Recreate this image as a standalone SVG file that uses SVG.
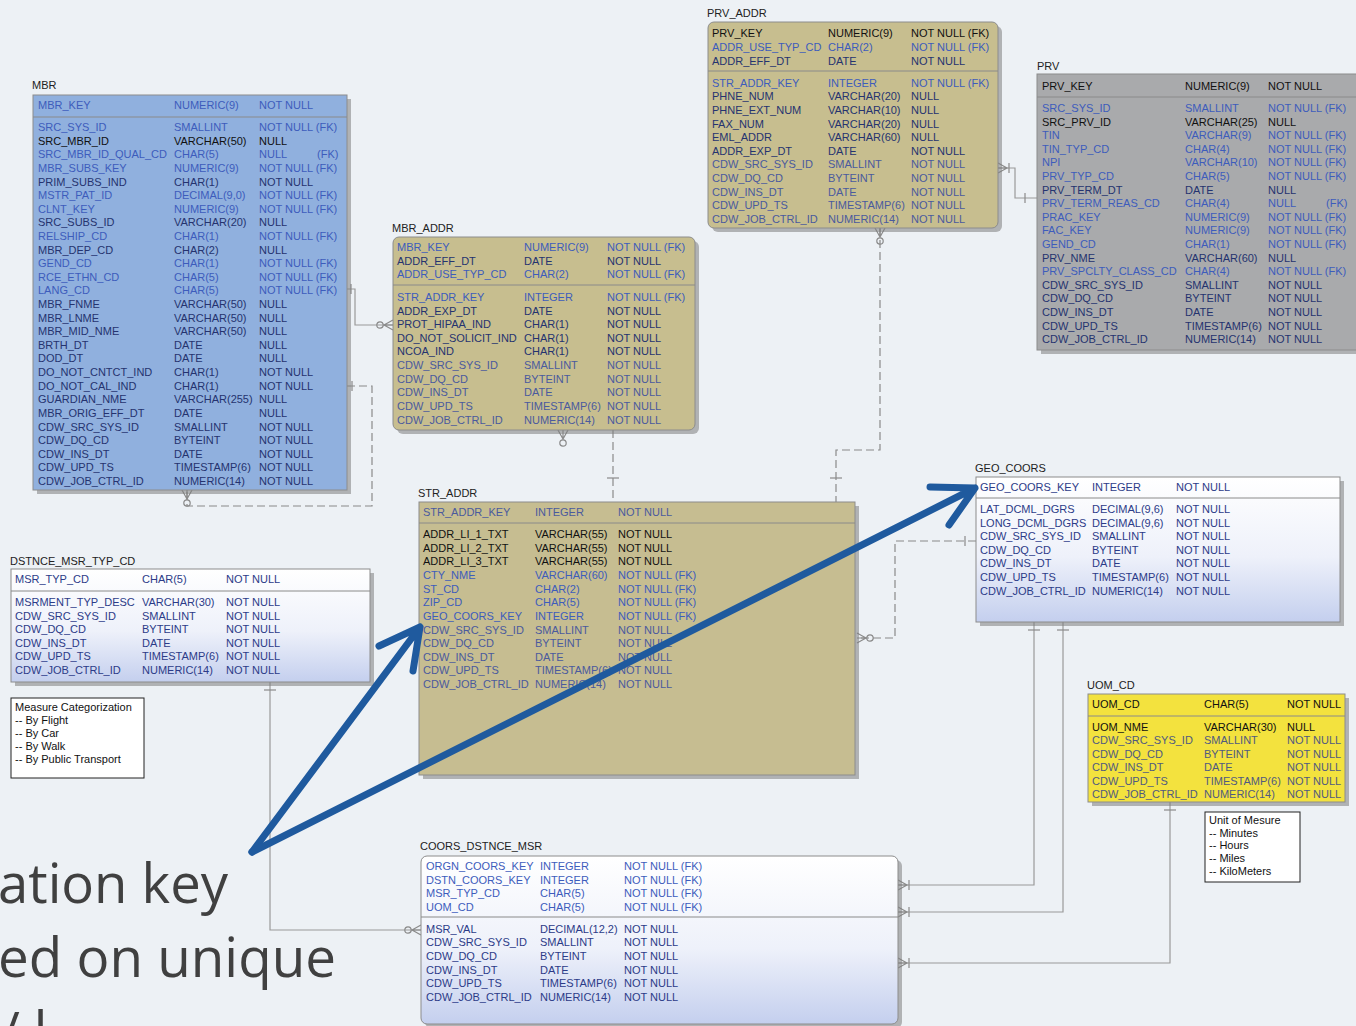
<svg xmlns="http://www.w3.org/2000/svg" width="1356" height="1026" viewBox="0 0 1356 1026">
<style>
text{font-family:"Liberation Sans",Arial,Helvetica,sans-serif;font-size:11px}
.lb{fill:#222}
.fk{fill:#3d5cbc}
.nv{fill:#25336f}
.bk{fill:#111}
.cw{fill:#4a5a9e}
.gb{fill:#2c3b88}
.gy{fill:#505a80}
.sh{fill:#7d7d7d;opacity:.55}
.sep{stroke:#8a8a8a;stroke-width:1}
.bd{stroke:#8c8c8c;stroke-width:1}
.ln{fill:none;stroke:#9a9a9a;stroke-width:1.2}
.dl{fill:none;stroke:#8a8a8a;stroke-width:1.2;stroke-dasharray:8 4}
.sym{fill:none;stroke:#8a8a8a;stroke-width:1.2}
.big{font-family:"Open Sans","Noto Sans",sans-serif;font-size:54px;fill:#404040}
.ar{fill:none;stroke:#1f5a9e;stroke-width:7;stroke-linecap:round;stroke-linejoin:round}
</style>
<defs>
<linearGradient id="gw" x1="0" y1="0" x2="0" y2="1">
<stop offset="0" stop-color="#ffffff"/><stop offset="0.55" stop-color="#eef1fa"/><stop offset="1" stop-color="#c4cfee"/>
</linearGradient>
<g id="footO" class="sym"><path d="M0,-5 L-9,0 L0,5 M0,0 H-9"/><circle cx="-13" cy="0" r="3.2"/></g>
<g id="footB" class="sym"><path d="M0,-5 L-9,0 L0,5 M0,0 H-9 M-11,-5 V5"/></g>
</defs>
<rect width="1356" height="1026" fill="#edf1f5"/>

<g id="connectors">
<path class="ln" d="M347,289 H355 V325 H393"/><path class="sym" d="M351,284 V294"/><use href="#footO" x="393" y="325"/>
<path class="dl" d="M347,386 H372 V506 H187 V490"/><path class="sym" d="M352,381 V391"/><use href="#footO" transform="translate(187,490) rotate(-90)"/>
<path class="dl" d="M613,430 V502"/><path class="sym" d="M607,478 H619"/><use href="#footO" transform="translate(563,430) rotate(-90)"/>
<path class="dl" d="M880,228 V450 H836 V502"/><path class="sym" d="M830,478 H842"/><use href="#footO" transform="translate(880,228) rotate(-90)"/>
<path class="ln" d="M1037,198 H1015 V168 H998"/><path class="sym" d="M1025,193 V203"/><use href="#footB" transform="translate(998,168) rotate(180)"/>
<path class="dl" d="M976,541 H895 V638 H857"/><path class="sym" d="M965,536 V546"/><use href="#footO" transform="translate(857,638) rotate(180)"/>
<path class="ln" d="M1034,622 V885 H898"/><path class="sym" d="M1028,630 H1040"/><use href="#footB" transform="translate(898,885) rotate(180)"/>
<path class="ln" d="M1063,622 V912 H898"/><path class="sym" d="M1057,630 H1069"/><use href="#footB" transform="translate(898,912) rotate(180)"/>
<path class="ln" d="M270,682 V930 H421"/><path class="sym" d="M264,690 H276"/><use href="#footO" x="421" y="930"/>
<path class="ln" d="M1170,802 V963 H898"/><path class="sym" d="M1164,810 H1176"/><use href="#footB" transform="translate(898,963) rotate(180)"/>
</g>

<g id="MBR">
<text class="lb" x="32" y="89">MBR</text>
<rect class="sh" x="37" y="99" width="314" height="395"/>
<rect class="bd" x="33" y="95" width="314" height="395" fill="#90b0de"/>
<line class="sep" x1="33" y1="117" x2="347" y2="117" stroke="#b8cbe8"/>
<text class="fk" y="109"><tspan x="38">MBR_KEY</tspan><tspan x="174">NUMERIC(9)</tspan><tspan x="259">NOT NULL</tspan></text>
<text class="fk" y="131"><tspan x="38">SRC_SYS_ID</tspan><tspan x="174">SMALLINT</tspan><tspan x="259">NOT NULL (FK)</tspan></text>
<text class="bk" y="145"><tspan x="38">SRC_MBR_ID</tspan><tspan x="174">VARCHAR(50)</tspan><tspan x="259">NULL</tspan></text>
<text class="fk" y="158"><tspan x="38">SRC_MBR_ID_QUAL_CD</tspan><tspan x="174">CHAR(5)</tspan><tspan x="259">NULL</tspan><tspan x="317">(FK)</tspan></text>
<text class="fk" y="172"><tspan x="38">MBR_SUBS_KEY</tspan><tspan x="174">NUMERIC(9)</tspan><tspan x="259">NOT NULL (FK)</tspan></text>
<text class="nv" y="186"><tspan x="38">PRIM_SUBS_IND</tspan><tspan x="174">CHAR(1)</tspan><tspan x="259">NOT NULL</tspan></text>
<text class="fk" y="199"><tspan x="38">MSTR_PAT_ID</tspan><tspan x="174">DECIMAL(9,0)</tspan><tspan x="259">NOT NULL (FK)</tspan></text>
<text class="fk" y="213"><tspan x="38">CLNT_KEY</tspan><tspan x="174">NUMERIC(9)</tspan><tspan x="259">NOT NULL (FK)</tspan></text>
<text class="nv" y="226"><tspan x="38">SRC_SUBS_ID</tspan><tspan x="174">VARCHAR(20)</tspan><tspan x="259">NULL</tspan></text>
<text class="fk" y="240"><tspan x="38">RELSHIP_CD</tspan><tspan x="174">CHAR(1)</tspan><tspan x="259">NOT NULL (FK)</tspan></text>
<text class="nv" y="254"><tspan x="38">MBR_DEP_CD</tspan><tspan x="174">CHAR(2)</tspan><tspan x="259">NULL</tspan></text>
<text class="fk" y="267"><tspan x="38">GEND_CD</tspan><tspan x="174">CHAR(1)</tspan><tspan x="259">NOT NULL (FK)</tspan></text>
<text class="fk" y="281"><tspan x="38">RCE_ETHN_CD</tspan><tspan x="174">CHAR(5)</tspan><tspan x="259">NOT NULL (FK)</tspan></text>
<text class="fk" y="294"><tspan x="38">LANG_CD</tspan><tspan x="174">CHAR(5)</tspan><tspan x="259">NOT NULL (FK)</tspan></text>
<text class="nv" y="308"><tspan x="38">MBR_FNME</tspan><tspan x="174">VARCHAR(50)</tspan><tspan x="259">NULL</tspan></text>
<text class="nv" y="322"><tspan x="38">MBR_LNME</tspan><tspan x="174">VARCHAR(50)</tspan><tspan x="259">NULL</tspan></text>
<text class="nv" y="335"><tspan x="38">MBR_MID_NME</tspan><tspan x="174">VARCHAR(50)</tspan><tspan x="259">NULL</tspan></text>
<text class="nv" y="349"><tspan x="38">BRTH_DT</tspan><tspan x="174">DATE</tspan><tspan x="259">NULL</tspan></text>
<text class="nv" y="362"><tspan x="38">DOD_DT</tspan><tspan x="174">DATE</tspan><tspan x="259">NULL</tspan></text>
<text class="nv" y="376"><tspan x="38">DO_NOT_CNTCT_IND</tspan><tspan x="174">CHAR(1)</tspan><tspan x="259">NOT NULL</tspan></text>
<text class="nv" y="390"><tspan x="38">DO_NOT_CAL_IND</tspan><tspan x="174">CHAR(1)</tspan><tspan x="259">NOT NULL</tspan></text>
<text class="nv" y="403"><tspan x="38">GUARDIAN_NME</tspan><tspan x="174">VARCHAR(255)</tspan><tspan x="259">NULL</tspan></text>
<text class="nv" y="417"><tspan x="38">MBR_ORIG_EFF_DT</tspan><tspan x="174">DATE</tspan><tspan x="259">NULL</tspan></text>
<text class="nv" y="431"><tspan x="38">CDW_SRC_SYS_ID</tspan><tspan x="174">SMALLINT</tspan><tspan x="259">NOT NULL</tspan></text>
<text class="nv" y="444"><tspan x="38">CDW_DQ_CD</tspan><tspan x="174">BYTEINT</tspan><tspan x="259">NOT NULL</tspan></text>
<text class="nv" y="458"><tspan x="38">CDW_INS_DT</tspan><tspan x="174">DATE</tspan><tspan x="259">NOT NULL</tspan></text>
<text class="nv" y="471"><tspan x="38">CDW_UPD_TS</tspan><tspan x="174">TIMESTAMP(6)</tspan><tspan x="259">NOT NULL</tspan></text>
<text class="nv" y="485"><tspan x="38">CDW_JOB_CTRL_ID</tspan><tspan x="174">NUMERIC(14)</tspan><tspan x="259">NOT NULL</tspan></text>
</g>

<g id="MBR_ADDR">
<text class="lb" x="392" y="232">MBR_ADDR</text>
<rect class="sh" x="397" y="241" width="302" height="193" rx="6"/>
<rect class="bd" x="393" y="237" width="302" height="193" rx="6" fill="#c7be8f"/>
<line class="sep" x1="393" y1="285" x2="695" y2="285"/>
<text class="fk" y="251"><tspan x="397">MBR_KEY</tspan><tspan x="524">NUMERIC(9)</tspan><tspan x="607">NOT NULL (FK)</tspan></text>
<text class="nv" y="265"><tspan x="397">ADDR_EFF_DT</tspan><tspan x="524">DATE</tspan><tspan x="607">NOT NULL</tspan></text>
<text class="fk" y="278"><tspan x="397">ADDR_USE_TYP_CD</tspan><tspan x="524">CHAR(2)</tspan><tspan x="607">NOT NULL (FK)</tspan></text>
<text class="fk" y="301"><tspan x="397">STR_ADDR_KEY</tspan><tspan x="524">INTEGER</tspan><tspan x="607">NOT NULL (FK)</tspan></text>
<text class="nv" y="315"><tspan x="397">ADDR_EXP_DT</tspan><tspan x="524">DATE</tspan><tspan x="607">NOT NULL</tspan></text>
<text class="nv" y="328"><tspan x="397">PROT_HIPAA_IND</tspan><tspan x="524">CHAR(1)</tspan><tspan x="607">NOT NULL</tspan></text>
<text class="nv" y="342"><tspan x="397">DO_NOT_SOLICIT_IND</tspan><tspan x="524">CHAR(1)</tspan><tspan x="607">NOT NULL</tspan></text>
<text class="nv" y="355"><tspan x="397">NCOA_IND</tspan><tspan x="524">CHAR(1)</tspan><tspan x="607">NOT NULL</tspan></text>
<text class="cw" y="369"><tspan x="397">CDW_SRC_SYS_ID</tspan><tspan x="524">SMALLINT</tspan><tspan x="607">NOT NULL</tspan></text>
<text class="cw" y="383"><tspan x="397">CDW_DQ_CD</tspan><tspan x="524">BYTEINT</tspan><tspan x="607">NOT NULL</tspan></text>
<text class="cw" y="396"><tspan x="397">CDW_INS_DT</tspan><tspan x="524">DATE</tspan><tspan x="607">NOT NULL</tspan></text>
<text class="cw" y="410"><tspan x="397">CDW_UPD_TS</tspan><tspan x="524">TIMESTAMP(6)</tspan><tspan x="607">NOT NULL</tspan></text>
<text class="cw" y="424"><tspan x="397">CDW_JOB_CTRL_ID</tspan><tspan x="524">NUMERIC(14)</tspan><tspan x="607">NOT NULL</tspan></text>
</g>

<g id="PRV_ADDR">
<text class="lb" x="707" y="17">PRV_ADDR</text>
<rect class="sh" x="712" y="26" width="290" height="206" rx="6"/>
<rect class="bd" x="708" y="22" width="290" height="206" rx="6" fill="#c7be8f"/>
<line class="sep" x1="708" y1="71" x2="998" y2="71"/>
<text class="bk" y="37"><tspan x="712">PRV_KEY</tspan><tspan x="828">NUMERIC(9)</tspan><tspan x="911">NOT NULL (FK)</tspan></text>
<text class="fk" y="51"><tspan x="712">ADDR_USE_TYP_CD</tspan><tspan x="828">CHAR(2)</tspan><tspan x="911">NOT NULL (FK)</tspan></text>
<text class="nv" y="65"><tspan x="712">ADDR_EFF_DT</tspan><tspan x="828">DATE</tspan><tspan x="911">NOT NULL</tspan></text>
<text class="fk" y="87"><tspan x="712">STR_ADDR_KEY</tspan><tspan x="828">INTEGER</tspan><tspan x="911">NOT NULL (FK)</tspan></text>
<text class="nv" y="100"><tspan x="712">PHNE_NUM</tspan><tspan x="828">VARCHAR(20)</tspan><tspan x="911">NULL</tspan></text>
<text class="nv" y="114"><tspan x="712">PHNE_EXT_NUM</tspan><tspan x="828">VARCHAR(10)</tspan><tspan x="911">NULL</tspan></text>
<text class="nv" y="128"><tspan x="712">FAX_NUM</tspan><tspan x="828">VARCHAR(20)</tspan><tspan x="911">NULL</tspan></text>
<text class="nv" y="141"><tspan x="712">EML_ADDR</tspan><tspan x="828">VARCHAR(60)</tspan><tspan x="911">NULL</tspan></text>
<text class="nv" y="155"><tspan x="712">ADDR_EXP_DT</tspan><tspan x="828">DATE</tspan><tspan x="911">NOT NULL</tspan></text>
<text class="cw" y="168"><tspan x="712">CDW_SRC_SYS_ID</tspan><tspan x="828">SMALLINT</tspan><tspan x="911">NOT NULL</tspan></text>
<text class="cw" y="182"><tspan x="712">CDW_DQ_CD</tspan><tspan x="828">BYTEINT</tspan><tspan x="911">NOT NULL</tspan></text>
<text class="cw" y="196"><tspan x="712">CDW_INS_DT</tspan><tspan x="828">DATE</tspan><tspan x="911">NOT NULL</tspan></text>
<text class="cw" y="209"><tspan x="712">CDW_UPD_TS</tspan><tspan x="828">TIMESTAMP(6)</tspan><tspan x="911">NOT NULL</tspan></text>
<text class="cw" y="223"><tspan x="712">CDW_JOB_CTRL_ID</tspan><tspan x="828">NUMERIC(14)</tspan><tspan x="911">NOT NULL</tspan></text>
</g>

<g id="PRV">
<text class="lb" x="1037" y="70">PRV</text>
<rect class="sh" x="1041" y="78" width="330" height="276"/>
<rect class="bd" x="1037" y="74" width="330" height="276" fill="#a9aaac"/>
<line class="sep" x1="1037" y1="97" x2="1356" y2="97" stroke="#c8c8c8"/>
<text class="bk" y="90"><tspan x="1042">PRV_KEY</tspan><tspan x="1185">NUMERIC(9)</tspan><tspan x="1268">NOT NULL</tspan></text>
<text class="fk" y="112"><tspan x="1042">SRC_SYS_ID</tspan><tspan x="1185">SMALLINT</tspan><tspan x="1268">NOT NULL (FK)</tspan></text>
<text class="bk" y="126"><tspan x="1042">SRC_PRV_ID</tspan><tspan x="1185">VARCHAR(25)</tspan><tspan x="1268">NULL</tspan></text>
<text class="fk" y="139"><tspan x="1042">TIN</tspan><tspan x="1185">VARCHAR(9)</tspan><tspan x="1268">NOT NULL (FK)</tspan></text>
<text class="fk" y="153"><tspan x="1042">TIN_TYP_CD</tspan><tspan x="1185">CHAR(4)</tspan><tspan x="1268">NOT NULL (FK)</tspan></text>
<text class="fk" y="166"><tspan x="1042">NPI</tspan><tspan x="1185">VARCHAR(10)</tspan><tspan x="1268">NOT NULL (FK)</tspan></text>
<text class="fk" y="180"><tspan x="1042">PRV_TYP_CD</tspan><tspan x="1185">CHAR(5)</tspan><tspan x="1268">NOT NULL (FK)</tspan></text>
<text class="nv" y="194"><tspan x="1042">PRV_TERM_DT</tspan><tspan x="1185">DATE</tspan><tspan x="1268">NULL</tspan></text>
<text class="fk" y="207"><tspan x="1042">PRV_TERM_REAS_CD</tspan><tspan x="1185">CHAR(4)</tspan><tspan x="1268">NULL</tspan><tspan x="1326">(FK)</tspan></text>
<text class="fk" y="221"><tspan x="1042">PRAC_KEY</tspan><tspan x="1185">NUMERIC(9)</tspan><tspan x="1268">NOT NULL (FK)</tspan></text>
<text class="fk" y="234"><tspan x="1042">FAC_KEY</tspan><tspan x="1185">NUMERIC(9)</tspan><tspan x="1268">NOT NULL (FK)</tspan></text>
<text class="fk" y="248"><tspan x="1042">GEND_CD</tspan><tspan x="1185">CHAR(1)</tspan><tspan x="1268">NOT NULL (FK)</tspan></text>
<text class="nv" y="262"><tspan x="1042">PRV_NME</tspan><tspan x="1185">VARCHAR(60)</tspan><tspan x="1268">NULL</tspan></text>
<text class="fk" y="275"><tspan x="1042">PRV_SPCLTY_CLASS_CD</tspan><tspan x="1185">CHAR(4)</tspan><tspan x="1268">NOT NULL (FK)</tspan></text>
<text class="nv" y="289"><tspan x="1042">CDW_SRC_SYS_ID</tspan><tspan x="1185">SMALLINT</tspan><tspan x="1268">NOT NULL</tspan></text>
<text class="nv" y="302"><tspan x="1042">CDW_DQ_CD</tspan><tspan x="1185">BYTEINT</tspan><tspan x="1268">NOT NULL</tspan></text>
<text class="nv" y="316"><tspan x="1042">CDW_INS_DT</tspan><tspan x="1185">DATE</tspan><tspan x="1268">NOT NULL</tspan></text>
<text class="nv" y="330"><tspan x="1042">CDW_UPD_TS</tspan><tspan x="1185">TIMESTAMP(6)</tspan><tspan x="1268">NOT NULL</tspan></text>
<text class="nv" y="343"><tspan x="1042">CDW_JOB_CTRL_ID</tspan><tspan x="1185">NUMERIC(14)</tspan><tspan x="1268">NOT NULL</tspan></text>
</g>

<g id="STR_ADDR">
<text class="lb" x="418" y="497">STR_ADDR</text>
<rect class="sh" x="423" y="506" width="436" height="273"/>
<rect class="bd" x="419" y="502" width="436" height="273" fill="#c6bd91"/>
<line class="sep" x1="419" y1="523" x2="855" y2="523"/>
<text class="cw" y="516"><tspan x="423">STR_ADDR_KEY</tspan><tspan x="535">INTEGER</tspan><tspan x="618">NOT NULL</tspan></text>
<text class="bk" y="538"><tspan x="423">ADDR_LI_1_TXT</tspan><tspan x="535">VARCHAR(55)</tspan><tspan x="618">NOT NULL</tspan></text>
<text class="bk" y="552"><tspan x="423">ADDR_LI_2_TXT</tspan><tspan x="535">VARCHAR(55)</tspan><tspan x="618">NOT NULL</tspan></text>
<text class="bk" y="565"><tspan x="423">ADDR_LI_3_TXT</tspan><tspan x="535">VARCHAR(55)</tspan><tspan x="618">NOT NULL</tspan></text>
<text class="fk" y="579"><tspan x="423">CTY_NME</tspan><tspan x="535">VARCHAR(60)</tspan><tspan x="618">NOT NULL (FK)</tspan></text>
<text class="fk" y="593"><tspan x="423">ST_CD</tspan><tspan x="535">CHAR(2)</tspan><tspan x="618">NOT NULL (FK)</tspan></text>
<text class="fk" y="606"><tspan x="423">ZIP_CD</tspan><tspan x="535">CHAR(5)</tspan><tspan x="618">NOT NULL (FK)</tspan></text>
<text class="fk" y="620"><tspan x="423">GEO_COORS_KEY</tspan><tspan x="535">INTEGER</tspan><tspan x="618">NOT NULL (FK)</tspan></text>
<text class="cw" y="634"><tspan x="423">CDW_SRC_SYS_ID</tspan><tspan x="535">SMALLINT</tspan><tspan x="618">NOT NULL</tspan></text>
<text class="cw" y="647"><tspan x="423">CDW_DQ_CD</tspan><tspan x="535">BYTEINT</tspan><tspan x="618">NOT NULL</tspan></text>
<text class="cw" y="661"><tspan x="423">CDW_INS_DT</tspan><tspan x="535">DATE</tspan><tspan x="618">NOT NULL</tspan></text>
<text class="cw" y="674"><tspan x="423">CDW_UPD_TS</tspan><tspan x="535">TIMESTAMP(6)</tspan><tspan x="618">NOT NULL</tspan></text>
<text class="cw" y="688"><tspan x="423">CDW_JOB_CTRL_ID</tspan><tspan x="535">NUMERIC(14)</tspan><tspan x="618">NOT NULL</tspan></text>
</g>

<g id="GEO_COORS">
<text class="lb" x="975" y="472">GEO_COORS</text>
<rect class="sh" x="980" y="481" width="364" height="145"/>
<rect class="bd" x="976" y="477" width="364" height="145" fill="url(#gw)"/>
<line class="sep" x1="976" y1="498" x2="1340" y2="498"/>
<text class="gb" y="491"><tspan x="980">GEO_COORS_KEY</tspan><tspan x="1092">INTEGER</tspan><tspan x="1176">NOT NULL</tspan></text>
<text class="gb" y="513"><tspan x="980">LAT_DCML_DGRS</tspan><tspan x="1092">DECIMAL(9,6)</tspan><tspan x="1176">NOT NULL</tspan></text>
<text class="gb" y="527"><tspan x="980">LONG_DCML_DGRS</tspan><tspan x="1092">DECIMAL(9,6)</tspan><tspan x="1176">NOT NULL</tspan></text>
<text class="gb" y="540"><tspan x="980">CDW_SRC_SYS_ID</tspan><tspan x="1092">SMALLINT</tspan><tspan x="1176">NOT NULL</tspan></text>
<text class="gb" y="554"><tspan x="980">CDW_DQ_CD</tspan><tspan x="1092">BYTEINT</tspan><tspan x="1176">NOT NULL</tspan></text>
<text class="gb" y="567"><tspan x="980">CDW_INS_DT</tspan><tspan x="1092">DATE</tspan><tspan x="1176">NOT NULL</tspan></text>
<text class="gb" y="581"><tspan x="980">CDW_UPD_TS</tspan><tspan x="1092">TIMESTAMP(6)</tspan><tspan x="1176">NOT NULL</tspan></text>
<text class="gb" y="595"><tspan x="980">CDW_JOB_CTRL_ID</tspan><tspan x="1092">NUMERIC(14)</tspan><tspan x="1176">NOT NULL</tspan></text>
</g>

<g id="DSTNCE_MSR_TYP_CD">
<text class="lb" x="10" y="565">DSTNCE_MSR_TYP_CD</text>
<rect class="sh" x="15" y="573" width="359" height="113"/>
<rect class="bd" x="11" y="569" width="359" height="113" fill="url(#gw)"/>
<line class="sep" x1="11" y1="591" x2="370" y2="591"/>
<text class="gb" y="583"><tspan x="15">MSR_TYP_CD</tspan><tspan x="142">CHAR(5)</tspan><tspan x="226">NOT NULL</tspan></text>
<text class="gb" y="606"><tspan x="15">MSRMENT_TYP_DESC</tspan><tspan x="142">VARCHAR(30)</tspan><tspan x="226">NOT NULL</tspan></text>
<text class="gb" y="620"><tspan x="15">CDW_SRC_SYS_ID</tspan><tspan x="142">SMALLINT</tspan><tspan x="226">NOT NULL</tspan></text>
<text class="gb" y="633"><tspan x="15">CDW_DQ_CD</tspan><tspan x="142">BYTEINT</tspan><tspan x="226">NOT NULL</tspan></text>
<text class="gb" y="647"><tspan x="15">CDW_INS_DT</tspan><tspan x="142">DATE</tspan><tspan x="226">NOT NULL</tspan></text>
<text class="gb" y="660"><tspan x="15">CDW_UPD_TS</tspan><tspan x="142">TIMESTAMP(6)</tspan><tspan x="226">NOT NULL</tspan></text>
<text class="gb" y="674"><tspan x="15">CDW_JOB_CTRL_ID</tspan><tspan x="142">NUMERIC(14)</tspan><tspan x="226">NOT NULL</tspan></text>
</g>

<g id="note_measure">
<rect x="11" y="698" width="133" height="80" fill="#fff" stroke="#222" stroke-width="1"/>
<text class="bk" x="15" y="711">Measure Categorization</text>
<text class="bk" x="15" y="724">-- By Flight</text>
<text class="bk" x="15" y="737">-- By Car</text>
<text class="bk" x="15" y="750">-- By Walk</text>
<text class="bk" x="15" y="763">-- By Public Transport</text>
</g>

<g id="UOM_CD">
<text class="lb" x="1087" y="689">UOM_CD</text>
<rect class="sh" x="1092" y="698" width="257" height="108"/>
<rect class="bd" x="1088" y="694" width="257" height="108" fill="#f3e23e"/>
<line class="sep" x1="1088" y1="716" x2="1345" y2="716"/>
<text class="bk" y="708"><tspan x="1092">UOM_CD</tspan><tspan x="1204">CHAR(5)</tspan><tspan x="1287">NOT NULL</tspan></text>
<text class="bk" y="731"><tspan x="1092">UOM_NME</tspan><tspan x="1204">VARCHAR(30)</tspan><tspan x="1287">NULL</tspan></text>
<text class="gy" y="744"><tspan x="1092">CDW_SRC_SYS_ID</tspan><tspan x="1204">SMALLINT</tspan><tspan x="1287">NOT NULL</tspan></text>
<text class="gy" y="758"><tspan x="1092">CDW_DQ_CD</tspan><tspan x="1204">BYTEINT</tspan><tspan x="1287">NOT NULL</tspan></text>
<text class="gy" y="771"><tspan x="1092">CDW_INS_DT</tspan><tspan x="1204">DATE</tspan><tspan x="1287">NOT NULL</tspan></text>
<text class="gy" y="785"><tspan x="1092">CDW_UPD_TS</tspan><tspan x="1204">TIMESTAMP(6)</tspan><tspan x="1287">NOT NULL</tspan></text>
<text class="gy" y="798"><tspan x="1092">CDW_JOB_CTRL_ID</tspan><tspan x="1204">NUMERIC(14)</tspan><tspan x="1287">NOT NULL</tspan></text>
</g>

<g id="note_uom">
<rect x="1205" y="812" width="95" height="70" fill="#fff" stroke="#222" stroke-width="1"/>
<text class="bk" x="1209" y="824">Unit of Mesure</text>
<text class="bk" x="1209" y="837">-- Minutes</text>
<text class="bk" x="1209" y="849">-- Hours</text>
<text class="bk" x="1209" y="862">-- Miles</text>
<text class="bk" x="1209" y="875">-- KiloMeters</text>
</g>

<g id="COORS_DSTNCE_MSR">
<text class="lb" x="420" y="850">COORS_DSTNCE_MSR</text>
<rect class="sh" x="425" y="860" width="477" height="168" rx="6"/>
<rect class="bd" x="421" y="856" width="477" height="168" rx="6" fill="url(#gw)"/>
<line class="sep" x1="421" y1="917" x2="898" y2="917"/>
<text class="fk" y="870"><tspan x="426">ORGN_COORS_KEY</tspan><tspan x="540">INTEGER</tspan><tspan x="624">NOT NULL (FK)</tspan></text>
<text class="fk" y="884"><tspan x="426">DSTN_COORS_KEY</tspan><tspan x="540">INTEGER</tspan><tspan x="624">NOT NULL (FK)</tspan></text>
<text class="fk" y="897"><tspan x="426">MSR_TYP_CD</tspan><tspan x="540">CHAR(5)</tspan><tspan x="624">NOT NULL (FK)</tspan></text>
<text class="fk" y="911"><tspan x="426">UOM_CD</tspan><tspan x="540">CHAR(5)</tspan><tspan x="624">NOT NULL (FK)</tspan></text>
<text class="gb" y="933"><tspan x="426">MSR_VAL</tspan><tspan x="540">DECIMAL(12,2)</tspan><tspan x="624">NOT NULL</tspan></text>
<text class="gb" y="946"><tspan x="426">CDW_SRC_SYS_ID</tspan><tspan x="540">SMALLINT</tspan><tspan x="624">NOT NULL</tspan></text>
<text class="gb" y="960"><tspan x="426">CDW_DQ_CD</tspan><tspan x="540">BYTEINT</tspan><tspan x="624">NOT NULL</tspan></text>
<text class="gb" y="974"><tspan x="426">CDW_INS_DT</tspan><tspan x="540">DATE</tspan><tspan x="624">NOT NULL</tspan></text>
<text class="gb" y="987"><tspan x="426">CDW_UPD_TS</tspan><tspan x="540">TIMESTAMP(6)</tspan><tspan x="624">NOT NULL</tspan></text>
<text class="gb" y="1001"><tspan x="426">CDW_JOB_CTRL_ID</tspan><tspan x="540">NUMERIC(14)</tspan><tspan x="624">NOT NULL</tspan></text>
</g>

<g id="overlay">
<text class="big" x="-2" y="903" textLength="230" lengthAdjust="spacingAndGlyphs">ation key</text>
<text class="big" x="-2" y="977" textLength="338" lengthAdjust="spacingAndGlyphs">ed on unique</text>
<text class="big" x="0" y="1051">/ l</text>
<path class="ar" d="M252,852 L420,627 M379,646 L420,627 L413,671"/>
<path class="ar" d="M252,852 L975,488 M930,487 L975,488 L949,525"/>
</g>
</svg>
